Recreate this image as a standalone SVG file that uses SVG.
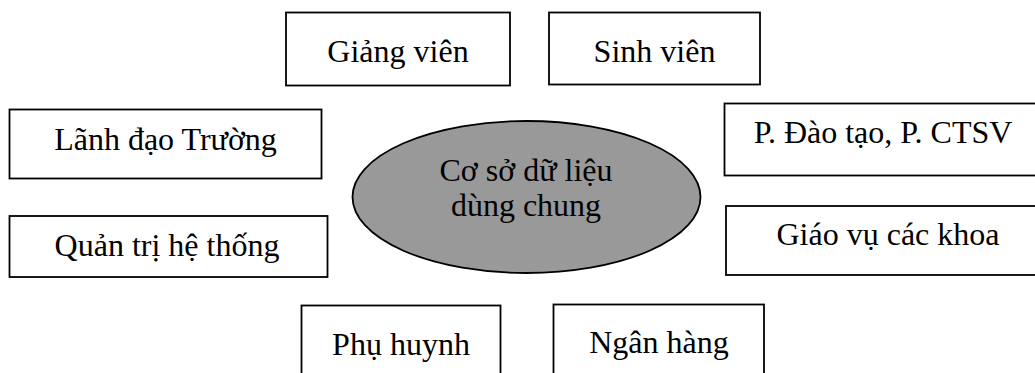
<svg xmlns="http://www.w3.org/2000/svg" width="1035" height="373" viewBox="0 0 1035 373">
  <style>
    .box { fill: #ffffff; stroke: #000000; stroke-width: 1.8; }
    .hub { fill: #999999; stroke: #000000; stroke-width: 1.8; }
    .lbl { font-family: "Liberation Serif", "Times New Roman", serif; font-size: 32px; fill: #000000; text-anchor: middle; }
  </style>
  <rect width="1035" height="373" fill="#ffffff"/>

  <!-- central shared database -->
  <g id="hub">
    <ellipse class="hub" cx="526.5" cy="197" rx="174" ry="76"/>
    <text class="lbl" x="526" y="181">Cơ sở dữ liệu</text>
    <text class="lbl" x="526" y="216">dùng chung</text>
  </g>

  <g id="giang-vien">
    <rect class="box" x="286" y="12.5" width="224" height="73"/>
    <text class="lbl" x="398" y="62">Giảng viên</text>
  </g>

  <g id="sinh-vien">
    <rect class="box" x="549" y="12.5" width="211" height="72"/>
    <text class="lbl" x="654.5" y="62">Sinh viên</text>
  </g>

  <g id="lanh-dao">
    <rect class="box" x="9.5" y="109.5" width="312" height="69"/>
    <text class="lbl" x="165.5" y="150">Lãnh đạo Trường</text>
  </g>

  <g id="quan-tri">
    <rect class="box" x="9.5" y="216" width="318" height="61"/>
    <text class="lbl" x="167" y="256">Quản trị hệ thống</text>
  </g>

  <g id="phong-dao-tao">
    <rect class="box" x="724.5" y="103.5" width="330" height="72"/>
    <text class="lbl" x="883" y="143">P. Đào tạo, P. CTSV</text>
  </g>

  <g id="giao-vu">
    <rect class="box" x="726" y="206" width="330" height="69"/>
    <text class="lbl" x="888" y="245">Giáo vụ các khoa</text>
  </g>

  <g id="phu-huynh">
    <rect class="box" x="301.5" y="305.5" width="199" height="80"/>
    <text class="lbl" x="401" y="355">Phụ huynh</text>
  </g>

  <g id="ngan-hang">
    <rect class="box" x="553.5" y="304.5" width="210.5" height="80"/>
    <text class="lbl" x="659" y="353">Ngân hàng</text>
  </g>

  <g id="connectors"></g>
</svg>
